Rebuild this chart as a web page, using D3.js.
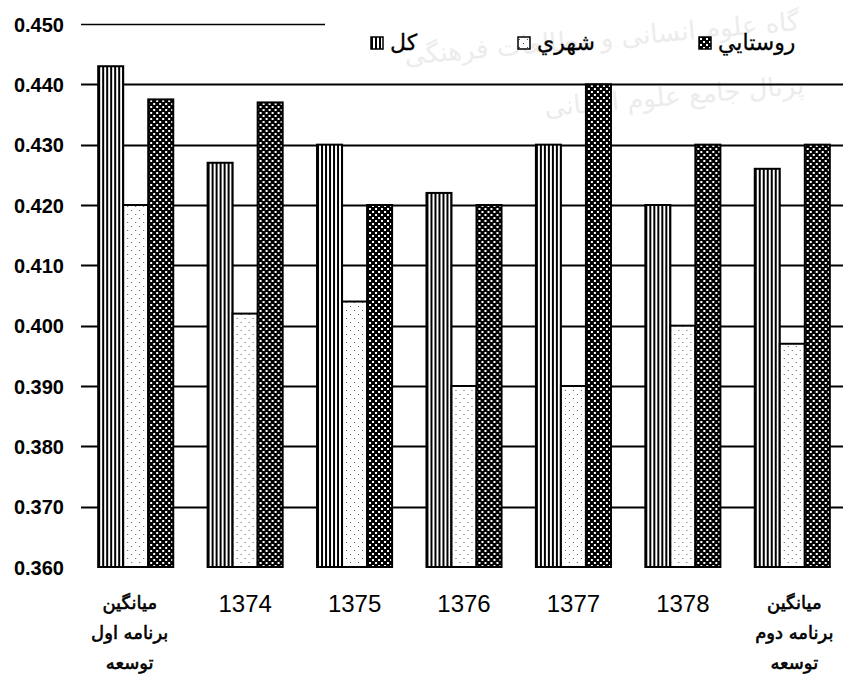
<!DOCTYPE html>
<html>
<head>
<meta charset="utf-8">
<script src="https://cdn.jsdelivr.net/npm/d3@7"></script>
<style>
  body { margin: 0; background: #fff; }
  svg { display: block; }
</style>
</head>
<body>
<svg width="843" height="678"></svg>
<script>
// data
var categories = ["avg1", "1374", "1375", "1376", "1377", "1378", "avg2"];
var categoryLabels = [
    ["ميانگين", "برنامه اول", "توسعه"],
    ["1374"], ["1375"], ["1376"], ["1377"], ["1378"],
    ["ميانگين", "برنامه دوم", "توسعه"]
];
var seriesNames = ["كل", "شهري", "روستايي"];
var totalValues = [0.443, 0.427, 0.430, 0.422, 0.430, 0.420, 0.426];
var urbanValues = [0.420, 0.402, 0.404, 0.390, 0.390, 0.400, 0.397];
var ruralValues = [0.4375, 0.437, 0.420, 0.420, 0.440, 0.430, 0.430];
var yTicks = [0.360, 0.370, 0.380, 0.390, 0.400, 0.410, 0.420, 0.430, 0.440, 0.450];

var series = [
    { key: "total", name: seriesNames[0], values: totalValues, pattern: "url(#pVert)" },
    { key: "urban", name: seriesNames[1], values: urbanValues, pattern: "url(#pDots)" },
    { key: "rural", name: seriesNames[2], values: ruralValues, pattern: "url(#pCheck)" }
];

var svg = d3.select("svg");

// patterns
var defs = svg.append("defs");
var pv = defs.append("pattern").attr("id", "pVert")
    .attr("patternUnits", "userSpaceOnUse").attr("width", 4).attr("height", 4);
pv.append("rect").attr("width", 4).attr("height", 4).attr("fill", "#fff");
pv.append("rect").attr("x", 0).attr("width", 2).attr("height", 4).attr("fill", "#000");

var pd = defs.append("pattern").attr("id", "pDots")
    .attr("patternUnits", "userSpaceOnUse").attr("width", 8).attr("height", 8);
pd.append("rect").attr("width", 8).attr("height", 8).attr("fill", "#fff");
pd.append("rect").attr("x", 1).attr("y", 2).attr("width", 1).attr("height", 1).attr("fill", "#555");
pd.append("rect").attr("x", 5).attr("y", 6).attr("width", 1).attr("height", 1).attr("fill", "#555");

var pc = defs.append("pattern").attr("id", "pCheck")
    .attr("patternUnits", "userSpaceOnUse").attr("width", 6).attr("height", 6);
pc.append("rect").attr("width", 6).attr("height", 6).attr("fill", "#000");
pc.append("rect").attr("x", 1).attr("y", 1).attr("width", 2).attr("height", 2).attr("fill", "#fff");
pc.append("rect").attr("x", 4).attr("y", 4).attr("width", 2).attr("height", 2).attr("fill", "#fff");

// faint watermark of the source scan
var wm = svg.append("g").attr("fill", "#ececec")
    .style("font-family", "'DejaVu Sans', sans-serif");
wm.append("text")
    .attr("transform", "translate(800,30) rotate(-5)")
    .attr("text-anchor", "end")
    .style("font-size", "26px")
    .text("گاه علوم انسانی و مطالعات فرهنگی");
wm.append("text")
    .attr("transform", "translate(675,105) rotate(-5)")
    .attr("text-anchor", "middle")
    .style("font-size", "26px")
    .text("پرتال جامع علوم انسانی");

// scales
var x0 = d3.scaleBand()
    .domain(categories)
    .range([81, 847])
    .paddingInner(0.314)
    .paddingOuter(0.157);

var x1 = d3.scaleBand()
    .domain(series.map(function(d) { return d.key; }))
    .range([0, x0.bandwidth()]);

var y = d3.scaleLinear()
    .domain([0.36, 0.45])
    .range([567, 24]);

// grid lines (no line at the baseline)
svg.append("g")
    .attr("class", "grid")
    .selectAll("line")
    .data(yTicks.filter(function(t) { return t > 0.36; }))
    .enter().append("line")
    .attr("x1", 81)
    .attr("x2", function(d) { return d >= 0.45 ? 325 : 843; })
    .attr("y1", function(d) { return Math.round(y(d)) + 0.5; })
    .attr("y2", function(d) { return Math.round(y(d)) + 0.5; })
    .attr("stroke", "#000")
    .attr("stroke-width", function(d) { return d >= 0.45 ? 1.5 : 2; });

// y axis labels
var yAxis = d3.axisLeft(y)
    .tickValues(yTicks)
    .tickFormat(d3.format(".3f"))
    .tickSize(0)
    .tickPadding(0);

var yg = svg.append("g")
    .attr("transform", "translate(64,0)")
    .call(yAxis);
yg.select(".domain").remove();
yg.selectAll("text")
    .attr("dy", "0.35em")
    .style("font-family", "'Liberation Sans', Arial, sans-serif")
    .style("font-weight", "bold")
    .style("font-size", "20px")
    .attr("fill", "#000");

// bars
var groups = svg.append("g")
    .selectAll("g")
    .data(categories)
    .enter().append("g")
    .attr("transform", function(d) { return "translate(" + x0(d) + ",0)"; });

groups.selectAll("rect")
    .data(function(d, i) {
        return series.map(function(s) { return { key: s.key, value: s.values[i], pattern: s.pattern }; });
    })
    .enter().append("rect")
    .attr("x", function(d) { return x1(d.key); })
    .attr("y", function(d) { return y(d.value); })
    .attr("width", x1.bandwidth())
    .attr("height", function(d) { return y(0.36) - y(d.value); })
    .attr("fill", function(d) { return d.pattern; })
    .attr("stroke", "#000")
    .attr("stroke-width", 2);

// x axis labels
var xAxis = d3.axisBottom(x0).tickSize(0).tickFormat("");
var xg = svg.append("g")
    .attr("transform", "translate(0,567)")
    .call(xAxis);
xg.select(".domain").remove();

xg.selectAll(".tick").each(function(d, i) {
    var lines = categoryLabels[i];
    var multi = lines.length > 1;
    var t = d3.select(this).append("text")
        .attr("text-anchor", "middle")
        .attr("fill", "#000")
        .style("font-family", multi ? "'DejaVu Sans', sans-serif" : "'Liberation Sans', Arial, sans-serif")
        .style("font-size", multi ? "18px" : "24px");
    if (multi) t.attr("stroke", "#000").attr("stroke-width", 0.6);
    lines.forEach(function(line, k) {
        t.append("tspan")
            .attr("x", i === 0 ? -6 : (multi ? 2 : 0))
            .attr("y", (multi ? 42 : 45) + k * 30)
            .text(line);
    });
});

// legend
var legendX = [371, 518, 699];
var item = svg.append("g").selectAll(".item")
    .data(series)
    .enter().append("g")
    .attr("class", "item")
    .attr("transform", function(d, i) { return "translate(" + legendX[i] + ",37)"; });

item.append("rect")
    .attr("width", 12).attr("height", 12)
    .attr("fill", function(d) { return d.pattern; })
    .attr("stroke", "#000")
    .attr("stroke-width", 1.5);

item.append("text")
    .attr("x", 19)
    .attr("y", 13)
    .style("font-family", "'DejaVu Sans', sans-serif")
    .style("font-size", "22px")
    .attr("stroke", "#000")
    .attr("stroke-width", 0.3)
    .attr("fill", "#000")
    .text(function(d) { return d.name; });
</script>
</body>
</html>
